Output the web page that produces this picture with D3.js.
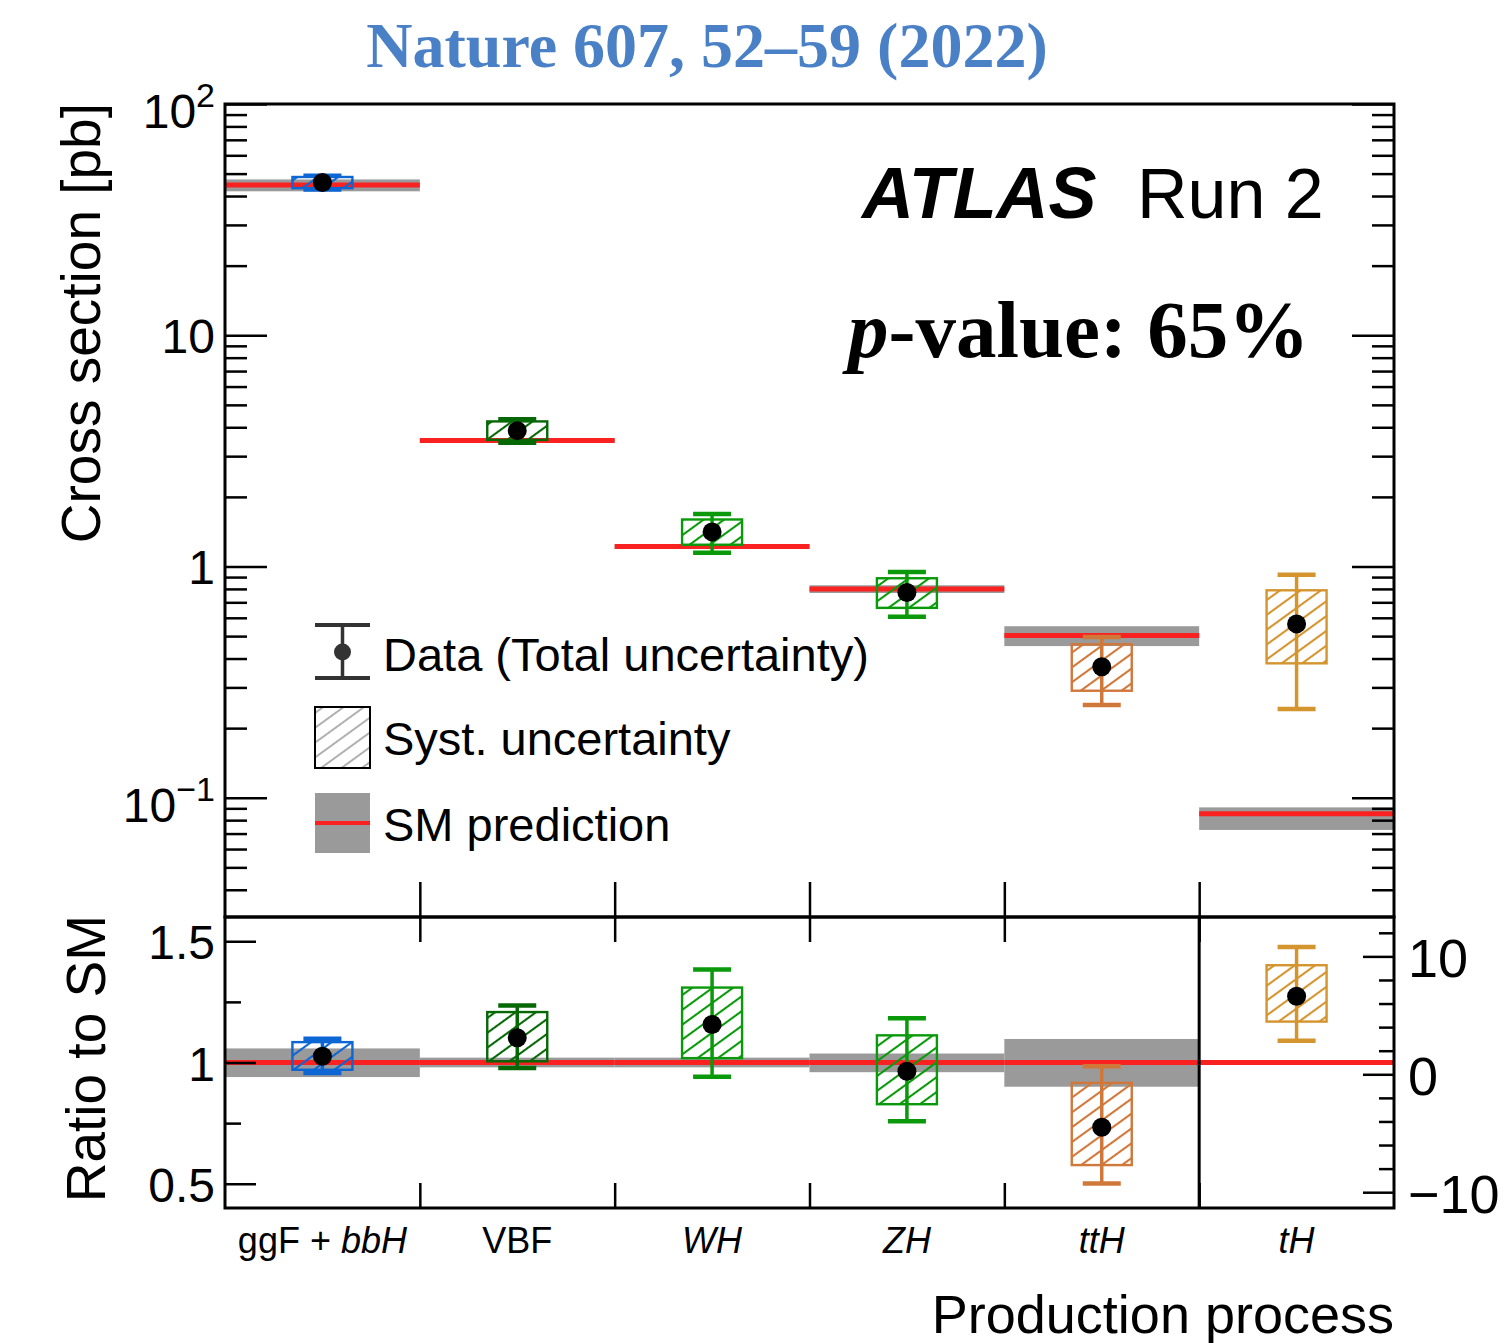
<!DOCTYPE html>
<html>
<head>
<meta charset="utf-8">
<script src="https://cdn.jsdelivr.net/npm/d3@7"></script>
<style>
  body { margin: 0; background: #fff; }
  svg { display: block; }
  text { font-family: "Liberation Sans", Arial, Helvetica, sans-serif; fill: #000; }
</style>
</head>
<body>
<svg id="chart" width="1507" height="1343"></svg>
<script>
// ---- Measured Higgs production cross sections vs. SM (ATLAS Run 2) ----
const categories = ["ggF + bbH", "VBF", "WH", "ZH", "ttH", "tH"];
// label pieces: [text, italic]
const categoryLabels = [
  [["ggF + ", false], ["bbH", true]],
  [["VBF", false]],
  [["WH", true]],
  [["ZH", true]],
  [["ttH", true]],
  [["tH", true]]
];
// SM prediction [pb] and its relative uncertainty
const smXsec    = [44.6, 3.51, 1.22, 0.80, 0.503, 0.0853];
const smUncUp   = [0.058, 0.020, 0.020, 0.037, 0.097, 0.065];
const smUncDown = [0.060, 0.020, 0.020, 0.040, 0.100, 0.149];
// measured ratio to SM with total and systematic uncertainties
const ratioToSM = [1.026, 1.102, 1.157, 0.964, 0.733, 6.62];
const totUp     = [0.072, 0.133, 0.227, 0.218, 0.252, 4.18];
const totDown   = [0.069, 0.125, 0.216, 0.206, 0.232, 3.78];
const systUp    = [0.058, 0.106, 0.152, 0.148, 0.183, 2.63];
const systDown  = [0.056, 0.097, 0.139, 0.136, 0.156, 2.15];
// which ratio axis each process is read against
const ratioAxisSide = ["left", "left", "left", "left", "left", "right"];
const procColors = ["#0c66d4", "#056805", "#0a990a", "#0a990a", "#d0773a", "#d4942e"];

// axis ticks
const ratioMajorTicks = [0.5, 1, 1.5];
const ratioMinorTicks = [0.75, 1.25];
const ratioRightMajor = [-10, 0, 10];
const ratioRightMinor = [-8, -6, -4, -2, 2, 4, 6, 8, 12];
const topLabels = [
  { v: 100, base: "10", exp: "2" },
  { v: 10, base: "10", exp: "" },
  { v: 1, base: "1", exp: "" },
  { v: 0.1, base: "10", exp: "\u22121" }
];

const svg = d3.select("#chart");
const L = 225, R = 1394, T = 104, MID = 917, B = 1208;

const x = d3.scaleBand().domain(categories).range([L, R]).padding(0);
const xEdge = d3.scaleLinear().domain([0, categories.length]).range([L, R]);
const yTop = d3.scaleLog().domain([0.0305, 100]).range([MID, T]);
const yRat = d3.scaleLinear().domain([0.4, 1.6]).range([B, MID]);
const yRatR = d3.scaleLinear().domain([-11.34, 13.34]).range([B, MID]);

const rows = categories.map((c, i) => ({
  c, i, sm: smXsec[i], up: smUncUp[i], dn: smUncDown[i],
  mu: ratioToSM[i], tu: totUp[i], td: totDown[i], su: systUp[i], sd: systDown[i],
  color: procColors[i], side: ratioAxisSide[i]
}));

// hatch patterns
const defs = svg.append("defs");
function hatch(id, color, w) {
  const p = defs.append("pattern").attr("id", id)
    .attr("patternUnits", "userSpaceOnUse").attr("width", 12).attr("height", 12)
    .attr("patternTransform", "rotate(-36)");
  p.append("line").attr("x1", 0).attr("x2", 12).attr("y1", 6).attr("y2", 6)
    .attr("stroke", color).attr("stroke-width", w);
}
rows.forEach(r => hatch("hatch" + r.i, r.color, 2.1));
hatch("hatchLegend", "#a8a8a8", 1.8);

const bandGrey = "#9a9a9a", smRed = "#fa2121";
const boxW = 60, capW = 38, ptR = 9.5;

// ---------- upper panel ----------
const up = svg.append("g");
up.selectAll(".smband").data(rows).join("rect")
  .attr("x", d => x(d.c)).attr("width", x.bandwidth())
  .attr("y", d => yTop(d.sm * (1 + d.up)))
  .attr("height", d => yTop(d.sm * (1 - d.dn)) - yTop(d.sm * (1 + d.up)))
  .attr("fill", bandGrey);
up.selectAll(".smline").data(rows).join("line")
  .attr("x1", d => x(d.c)).attr("x2", d => x(d.c) + x.bandwidth())
  .attr("y1", d => yTop(d.sm)).attr("y2", d => yTop(d.sm))
  .attr("stroke", smRed).attr("stroke-width", 5);

function drawMeas(g, yv, cx) {
  // systematic box
  g.append("rect")
    .attr("x", cx - boxW / 2).attr("width", boxW)
    .attr("y", yv.su).attr("height", yv.sd - yv.su)
    .attr("fill", `url(#hatch${yv.i})`).attr("stroke", yv.color).attr("stroke-width", 2.4);
  // total uncertainty bar
  g.append("line").attr("x1", cx).attr("x2", cx).attr("y1", yv.tu).attr("y2", yv.td)
    .attr("stroke", yv.color).attr("stroke-width", 3.5);
  [yv.tu, yv.td].forEach(yy => g.append("line")
    .attr("x1", cx - capW / 2).attr("x2", cx + capW / 2).attr("y1", yy).attr("y2", yy)
    .attr("stroke", yv.color).attr("stroke-width", 4.5));
  g.append("circle").attr("cx", cx).attr("cy", yv.c).attr("r", ptR).attr("fill", "#000");
}

rows.forEach(d => {
  const cx = x(d.c) + x.bandwidth() / 2;
  drawMeas(up.append("g"), {
    i: d.i, color: d.color,
    c: yTop(d.mu * d.sm),
    su: yTop((d.mu + d.su) * d.sm), sd: yTop((d.mu - d.sd) * d.sm),
    tu: yTop((d.mu + d.tu) * d.sm), td: yTop((d.mu - d.td) * d.sm)
  }, cx);
});

// ---------- lower panel ----------
const lo = svg.append("g");
lo.selectAll(".rband").data(rows.filter(d => d.side === "left")).join("rect")
  .attr("x", d => x(d.c)).attr("width", x.bandwidth())
  .attr("y", d => yRat(1 + d.up)).attr("height", d => yRat(1 - d.dn) - yRat(1 + d.up))
  .attr("fill", bandGrey);
lo.selectAll(".rline").data(rows).join("line")
  .attr("x1", d => x(d.c)).attr("x2", d => x(d.c) + x.bandwidth())
  .attr("y1", d => (d.side === "left" ? yRat : yRatR)(1))
  .attr("y2", d => (d.side === "left" ? yRat : yRatR)(1))
  .attr("stroke", smRed).attr("stroke-width", 5);
rows.forEach(d => {
  const s = d.side === "left" ? yRat : yRatR;
  const cx = x(d.c) + x.bandwidth() / 2;
  drawMeas(lo.append("g"), {
    i: d.i, color: d.color, c: s(d.mu),
    su: s(d.mu + d.su), sd: s(d.mu - d.sd), tu: s(d.mu + d.tu), td: s(d.mu - d.td)
  }, cx);
});

// ---------- axes ----------
function styleAxis(g, w) {
  g.select(".domain").remove();
  g.selectAll(".tick line").attr("stroke", "#000").attr("stroke-width", w || 2.5);
  g.selectAll(".tick text").remove();
}
const logTicks = yTop.ticks();
const logMajor = logTicks.filter(v => Math.abs(Math.log10(v) - Math.round(Math.log10(v))) < 1e-9);
const logMinor = logTicks.filter(v => !logMajor.includes(v));

[[d3.axisRight, L], [d3.axisLeft, R]].forEach(([ax, px]) => {
  svg.append("g").attr("transform", `translate(${px},0)`)
    .call(ax(yTop).tickValues(logMajor).tickSize(42)).call(styleAxis);
  svg.append("g").attr("transform", `translate(${px},0)`)
    .call(ax(yTop).tickValues(logMinor).tickSize(22)).call(styleAxis);
});
svg.append("g").attr("transform", `translate(${L},0)`)
  .call(d3.axisRight(yRat).tickValues(ratioMajorTicks).tickSize(31)).call(styleAxis);
svg.append("g").attr("transform", `translate(${L},0)`)
  .call(d3.axisRight(yRat).tickValues(ratioMinorTicks).tickSize(16)).call(styleAxis);
svg.append("g").attr("transform", `translate(${R},0)`)
  .call(d3.axisLeft(yRatR).tickValues(ratioRightMajor).tickSize(31)).call(styleAxis);
svg.append("g").attr("transform", `translate(${R},0)`)
  .call(d3.axisLeft(yRatR).tickValues(ratioRightMinor).tickSize(15)).call(styleAxis);

const edges = d3.range(1, categories.length);
svg.append("g").attr("transform", `translate(0,${MID})`)
  .call(d3.axisTop(xEdge).tickValues(edges).tickSize(35)).call(styleAxis);
svg.append("g").attr("transform", `translate(0,${MID})`)
  .call(d3.axisBottom(xEdge).tickValues(edges).tickSize(25)).call(styleAxis);
svg.append("g").attr("transform", `translate(0,${B})`)
  .call(d3.axisTop(xEdge).tickValues(edges).tickSize(25)).call(styleAxis);

// separator between left- and right-axis processes in the ratio panel
const sepIdx = ratioAxisSide.indexOf("right");
svg.append("line").attr("x1", xEdge(sepIdx)).attr("x2", xEdge(sepIdx))
  .attr("y1", MID).attr("y2", B).attr("stroke", "#000").attr("stroke-width", 3);

// frames
svg.append("rect").attr("x", L).attr("y", T).attr("width", R - L).attr("height", MID - T)
  .attr("fill", "none").attr("stroke", "#000").attr("stroke-width", 3);
svg.append("rect").attr("x", L).attr("y", MID).attr("width", R - L).attr("height", B - MID)
  .attr("fill", "none").attr("stroke", "#000").attr("stroke-width", 3);

// ---------- tick labels ----------
topLabels.forEach(t => {
  const tx = svg.append("text").attr("x", 215).attr("text-anchor", "end")
    .attr("font-size", 48);
  if (t.exp) {
    tx.attr("y", yTop(t.v) + 24);
    tx.append("tspan").text(t.base);
    tx.append("tspan").attr("dy", -21).attr("font-size", 34).text(t.exp);
  } else {
    tx.attr("y", yTop(t.v) + 18).text(t.base);
  }
});
ratioMajorTicks.forEach(v => svg.append("text").attr("x", 215).attr("y", yRat(v) + 18)
  .attr("text-anchor", "end").attr("font-size", 48).text(d3.format("")(v)));
ratioRightMajor.forEach(v => svg.append("text").attr("x", 1408).attr("y", yRatR(v) + 21)
  .attr("font-size", 54).text(v < 0 ? "\u2212" + Math.abs(v) : v));

categoryLabels.forEach((parts, i) => {
  const t = svg.append("text").attr("x", x(categories[i]) + x.bandwidth() / 2)
    .attr("y", 1253).attr("text-anchor", "middle").attr("font-size", 36);
  parts.forEach(([s, it]) => t.append("tspan").attr("font-style", it ? "italic" : "normal").text(s));
});

// ---------- axis titles ----------
svg.append("text").attr("transform", `translate(100,${T - 1}) rotate(-90)`)
  .attr("text-anchor", "end").attr("font-size", 55).text("Cross section [pb]");
svg.append("text").attr("transform", `translate(105,${MID - 2}) rotate(-90)`)
  .attr("text-anchor", "end").attr("font-size", 55).text("Ratio to SM");
svg.append("text").attr("x", R).attr("y", 1333).attr("text-anchor", "end")
  .attr("font-size", 54).text("Production process");

// ---------- title and annotations ----------
svg.append("text").attr("x", 707).attr("y", 67).attr("text-anchor", "middle")
  .style("font-family", '"Liberation Serif", "Times New Roman", serif')
  .style("fill", "#4a80c5").attr("font-weight", "bold").attr("font-size", 64)
  .text("Nature 607, 52\u201359 (2022)");
svg.append("text").attr("x", 862).attr("y", 218).attr("font-size", 72)
  .attr("font-weight", "bold").attr("font-style", "italic").text("ATLAS");
svg.append("text").attr("x", 1137).attr("y", 218).attr("font-size", 70).text("Run 2");
const pv = svg.append("text").attr("x", 848).attr("y", 357).attr("font-size", 81)
  .style("font-family", '"Liberation Serif", "Times New Roman", serif').attr("font-weight", "bold");
pv.append("tspan").attr("font-style", "italic").text("p");
pv.append("tspan").text("-value: 65%");

// ---------- legend ----------
const lg = svg.append("g");
const lx0 = 315, lx1 = 370, lcx = (lx0 + lx1) / 2;
lg.append("line").attr("x1", lcx).attr("x2", lcx).attr("y1", 625).attr("y2", 678)
  .attr("stroke", "#333").attr("stroke-width", 3.5);
[625, 678].forEach(yy => lg.append("line").attr("x1", lx0).attr("x2", lx1)
  .attr("y1", yy).attr("y2", yy).attr("stroke", "#333").attr("stroke-width", 4));
lg.append("circle").attr("cx", lcx).attr("cy", 652).attr("r", 8.5).attr("fill", "#333");
lg.append("text").attr("x", 383).attr("y", 671).attr("font-size", 47).text("Data (Total uncertainty)");

lg.append("rect").attr("x", lx0).attr("y", 707).attr("width", lx1 - lx0).attr("height", 61)
  .attr("fill", "url(#hatchLegend)").attr("stroke", "#000").attr("stroke-width", 2);
lg.append("text").attr("x", 383).attr("y", 755).attr("font-size", 47).text("Syst. uncertainty");

lg.append("rect").attr("x", lx0).attr("y", 793).attr("width", lx1 - lx0).attr("height", 60)
  .attr("fill", bandGrey);
lg.append("line").attr("x1", lx0).attr("x2", lx1).attr("y1", 823).attr("y2", 823)
  .attr("stroke", smRed).attr("stroke-width", 4);
lg.append("text").attr("x", 383).attr("y", 841).attr("font-size", 47).text("SM prediction");
</script>
</body>
</html>
